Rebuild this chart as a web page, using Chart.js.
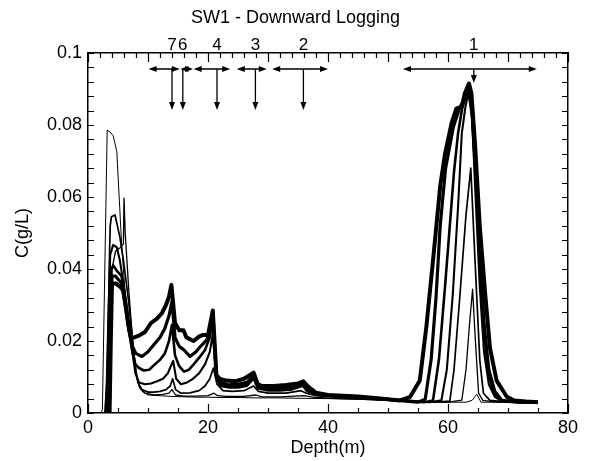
<!DOCTYPE html>
<html>
<head>
<meta charset="utf-8">
<script src="https://cdn.jsdelivr.net/npm/chart.js@4.4.1/dist/chart.umd.min.js"></script>
<style>
  html, body { margin: 0; padding: 0; background: #fff; }
</style>
</head>
<body>
<canvas id="chart" width="591" height="461"></canvas>
<script>
    // concentration profiles [depth (m), C (g/L)], thin (early) -> thick (late)
    const run1 = [[2.2,0],[2.4,0.001],[3.2,0.0786],[3.7,0.078],[4.2,0.077],[4.8,0.0726],[5.6,0.047],[6.4,0.0286],[7.3,0.019],[7.8,0.0129],[8.4,0.008],[9,0.006],[10,0.005],[12,0.0048],[14,0.0046],[16,0.0045],[18,0.0044],[20,0.0044],[22,0.0043],[25,0.0043],[28,0.0042],[31,0.0042],[35,0.0041],[40,0.004],[45,0.0038],[50,0.0035],[55,0.003],[60,0.003],[63,0.003],[64,0.0035],[64.8,0.0052],[65.5,0.003],[68,0.003],[72,0.0028],[75,0.0028]];
    const run2 = [[2.6,0],[3,0.0005],[3.5,0.02],[4,0.04],[4.6,0.045],[5.4,0.046],[5.9,0.047],[6,0.0597],[6.2,0.05],[6.8,0.034],[7.4,0.021],[8,0.011],[8.6,0.007],[9.5,0.0055],[11,0.005],[12.5,0.0052],[13.5,0.0055],[14,0.0065],[14.6,0.005],[16,0.0047],[18,0.0047],[20,0.0048],[21,0.0055],[21.6,0.0048],[23,0.0046],[26,0.0046],[28,0.005],[29,0.0045],[32,0.0045],[36,0.0048],[38,0.0043],[42,0.004],[46,0.0038],[50,0.0035],[55,0.0032],[60,0.003],[62.3,0.0036],[63,0.012],[63.6,0.025],[64.1,0.0344],[64.5,0.022],[65.1,0.0055],[65.8,0.0035],[68,0.003],[72,0.003],[75,0.0028]];
    const run3 = [[2.8,0],[3.2,0.01],[3.6,0.045],[3.7,0.052],[3.9,0.0545],[4.5,0.055],[5.3,0.049],[5.9,0.0425],[6.7,0.032],[7.2,0.024],[7.8,0.014],[8.3,0.0085],[9,0.0065],[10,0.0058],[11,0.0058],[12,0.006],[13,0.0065],[13.7,0.0075],[14.1,0.0095],[14.6,0.0065],[15.5,0.0055],[17,0.0056],[18.5,0.0062],[19.5,0.0075],[20.3,0.0095],[20.9,0.0125],[21.5,0.008],[22.5,0.0062],[24,0.006],[26,0.0062],[27.6,0.0075],[28.4,0.006],[30,0.0055],[33,0.0055],[35.5,0.0062],[36.4,0.0055],[38,0.0048],[42,0.0043],[46,0.004],[50,0.0036],[55,0.0032],[58,0.003],[60.3,0.0033],[61,0.012],[62,0.033],[63,0.055],[63.8,0.068],[64.5,0.0425],[65.3,0.0147],[65.9,0.0055],[67,0.0035],[70,0.003],[75,0.0028]];
    const run4 = [[3,0],[3.3,0.02],[3.7,0.044],[4.2,0.0467],[4.8,0.046],[5.3,0.0425],[5.9,0.036],[6.6,0.028],[7.3,0.018],[7.9,0.011],[8.5,0.0085],[9.5,0.008],[10.5,0.0082],[11.5,0.0088],[12.5,0.0095],[13.3,0.011],[13.8,0.013],[14.2,0.0145],[14.7,0.0095],[15.5,0.008],[16.5,0.0085],[17.5,0.0095],[18.5,0.011],[19.5,0.0135],[20.3,0.017],[20.8,0.022],[21.4,0.01],[22,0.0075],[23.5,0.007],[25,0.007],[26.5,0.0075],[27.6,0.0095],[28.3,0.0068],[30,0.0062],[32,0.0062],[34,0.0065],[35.8,0.0075],[36.5,0.006],[38,0.005],[42,0.0045],[46,0.0041],[50,0.0037],[54,0.0033],[57,0.003],[58.9,0.0035],[59.8,0.012],[60.8,0.033],[61.7,0.058],[62.3,0.0777],[62.9,0.085],[63.4,0.089],[64,0.082],[64.6,0.06],[65.3,0.035],[66,0.017],[66.8,0.008],[67.8,0.0045],[69,0.0032],[72,0.003],[75,0.003]];
    const run5 = [[3.2,0],[3.5,0.02],[3.9,0.04],[4.2,0.041],[4.8,0.0395],[5.6,0.038],[6.2,0.031],[6.8,0.023],[7.4,0.017],[7.9,0.0135],[8.5,0.0125],[9.3,0.0118],[10.2,0.012],[11,0.0133],[12,0.0148],[12.8,0.0165],[13.5,0.02],[14,0.0245],[14.5,0.016],[15.2,0.013],[16,0.0115],[16.8,0.012],[17.6,0.0135],[18.6,0.0155],[19.5,0.0175],[20.3,0.021],[20.8,0.026],[21.4,0.0105],[22,0.008],[23.5,0.0075],[25,0.0075],[26.5,0.008],[27.6,0.01],[28.3,0.0072],[30,0.0066],[32,0.0067],[34,0.007],[35.8,0.008],[36.5,0.0065],[38,0.0052],[42,0.0046],[46,0.0042],[50,0.0038],[54,0.0033],[56,0.003],[57.5,0.0035],[58.5,0.015],[59.5,0.035],[60.3,0.052],[61,0.067],[61.7,0.078],[62.4,0.085],[63.4,0.09],[64,0.084],[64.7,0.063],[65.4,0.04],[66.1,0.021],[66.9,0.0095],[67.9,0.005],[69,0.0033],[72,0.003],[75,0.003]];
    const run6 = [[3.4,0],[3.7,0.025],[4,0.038],[4.6,0.038],[5.6,0.036],[6.2,0.03],[6.8,0.023],[7.4,0.0185],[8,0.0165],[9,0.0157],[10,0.017],[11,0.019],[12,0.021],[12.8,0.0235],[13.5,0.027],[14,0.031],[14.5,0.021],[15.2,0.0185],[16,0.0175],[17,0.0157],[18,0.017],[18.7,0.0184],[19.8,0.0203],[20.4,0.023],[20.8,0.0275],[21.4,0.0105],[22,0.0085],[23.5,0.0078],[25,0.008],[26.5,0.0085],[27.6,0.0105],[28.3,0.0075],[30,0.007],[32,0.007],[34,0.0075],[35.8,0.0085],[36.5,0.007],[38,0.0053],[42,0.0047],[46,0.0043],[50,0.0038],[53,0.0033],[55,0.003],[56.2,0.0038],[57.2,0.015],[58,0.032],[58.7,0.052],[59.6,0.068],[60.9,0.0795],[62,0.085],[62.7,0.087],[63.3,0.091],[63.9,0.086],[64.6,0.068],[65.3,0.045],[66,0.025],[66.8,0.012],[67.8,0.006],[69,0.0035],[72,0.003],[75,0.003]];
    const run7 = [[3.6,0],[3.8,0.02],[4,0.036],[4.6,0.036],[5.4,0.035],[5.9,0.034],[6.7,0.025],[7.2,0.021],[7.7,0.021],[8.5,0.0215],[9.5,0.0225],[10.5,0.025],[11.5,0.0262],[12.3,0.0277],[13,0.03],[13.5,0.0323],[13.9,0.0356],[14.5,0.025],[15.2,0.023],[15.9,0.023],[16.4,0.021],[17.6,0.02],[18.5,0.0212],[19.2,0.0217],[20,0.0217],[20.4,0.025],[20.8,0.0285],[21.4,0.0105],[22,0.0095],[23,0.009],[24.5,0.0088],[26,0.0095],[27.6,0.0112],[28.3,0.008],[29,0.0075],[31,0.0075],[33,0.0078],[35,0.0082],[35.9,0.0088],[36.6,0.0075],[38,0.0056],[40,0.005],[45,0.0046],[48.7,0.004],[52,0.0035],[53.7,0.0045],[55.3,0.009],[56.4,0.024],[57.6,0.044],[58.7,0.063],[59.5,0.072],[60.6,0.0805],[61.4,0.0846],[62.3,0.085],[62.8,0.0888],[63.5,0.0915],[63.9,0.0888],[64.5,0.0749],[65.3,0.0518],[66.2,0.033],[67,0.018],[68.1,0.009],[69.8,0.0045],[71,0.0035],[73,0.0032],[75,0.003]];

    const runs = [run1, run2, run3, run4, run5, run6, run7];
    const runWidths = [1, 1.3, 1.7, 2.1, 2.6, 3.2, 4];

    // logger positions and logged intervals (m)
    const loggerNames = ['1', '2', '3', '4', '6', '7'];
    const loggerDepth = [64.3, 35.9, 27.9, 21.5, 15.8, 14.0];
    const rangeFrom = [52.5, 30.7, 24.8, 17.6, 15.4, 10.1];
    const rangeTo = [74.8, 40.0, 29.8, 23.7, 17.5, 15.3];

    const FONT = "'Liberation Sans', Arial, sans-serif";

    function arrowHead(ctx, x, y, dx, dy) {
        // filled triangle pointing along (dx, dy)
        const len = 8, half = 3;
        ctx.beginPath();
        ctx.moveTo(x, y);
        ctx.lineTo(x - dx * len - dy * half, y - dy * len + dx * half);
        ctx.lineTo(x - dx * len + dy * half, y - dy * len - dx * half);
        ctx.closePath();
        ctx.fill();
    }

    const decorations = {
        id: 'decorations',
        afterDraw(chart) {
            const { ctx, chartArea: a, scales } = chart;
            const x = scales.x, y = scales.y;
            ctx.save();
            ctx.strokeStyle = '#000';
            ctx.fillStyle = '#000';
            ctx.lineWidth = 1.2;

            // inward ticks
            ctx.beginPath();
            for (let v = 0; v <= 80; v += 5) {
                const px = Math.round(x.getPixelForValue(v)) + 0.5;
                const l = v % 20 === 0 ? 9 : 5;
                ctx.moveTo(px, a.bottom); ctx.lineTo(px, a.bottom - l);
            }
            for (let v = 0; v <= 80; v += 2) {
                const px = Math.round(x.getPixelForValue(v)) + 0.5;
                const l = v % 10 === 0 ? 9 : 5;
                ctx.moveTo(px, a.top); ctx.lineTo(px, a.top + l);
            }
            for (let i = 0; i <= 25; i++) {
                const py = Math.round(y.getPixelForValue(i * 0.004)) + 0.5;
                ctx.moveTo(a.left, py); ctx.lineTo(a.left + 6, py);
                ctx.moveTo(a.right, py); ctx.lineTo(a.right - 6, py);
            }
            ctx.stroke();

            // logger arrows
            const rowY = 69;
            ctx.lineWidth = 1.3;
            loggerNames.forEach((name, i) => {
                const x0 = x.getPixelForValue(rangeFrom[i]);
                const x1 = x.getPixelForValue(rangeTo[i]);
                const xl = x.getPixelForValue(loggerDepth[i]);
                const tipY = name === '1' ? 83 : 110;
                ctx.beginPath();
                ctx.moveTo(x0 + 4, rowY); ctx.lineTo(x1 - 4, rowY);
                ctx.moveTo(xl, rowY); ctx.lineTo(xl, tipY - 4);
                ctx.stroke();
                arrowHead(ctx, x0, rowY, -1, 0);
                arrowHead(ctx, x1, rowY, 1, 0);
                arrowHead(ctx, xl, tipY, 0, 1);
            });

            // logger labels
            ctx.font = '17px ' + FONT;
            ctx.textAlign = 'center';
            ctx.textBaseline = 'middle';
            loggerNames.forEach((name, i) => {
                ctx.fillText(name, x.getPixelForValue(loggerDepth[i]), 45);
            });

            // title
            ctx.font = '18px ' + FONT;
            ctx.fillText('SW1 - Downward Logging', chart.width / 2, 18);
            ctx.restore();
        }
    };

    const tickFont = { family: FONT, size: 18 };

    new Chart(document.getElementById('chart'), {
        type: 'scatter',
        data: {
            datasets: runs.map((r, i) => ({
                data: r.map(p => ({ x: p[0], y: p[1] })),
                showLine: true,
                borderColor: '#000',
                borderWidth: runWidths[i],
                borderJoinStyle: 'round',
                pointRadius: 0,
                fill: false
            }))
        },
        options: {
            responsive: false,
            animation: false,
            devicePixelRatio: 1,
            layout: { padding: 0 },
            plugins: { legend: { display: false }, tooltip: { enabled: false } },
            scales: {
                x: {
                    type: 'linear', position: 'bottom', min: 0, max: 80,
                    ticks: { stepSize: 20, color: '#000', font: tickFont, padding: 4, maxRotation: 0 },
                    grid: { display: true, drawOnChartArea: false, drawTicks: false },
                    border: { color: '#000', width: 1.5 },
                    title: { display: true, text: 'Depth(m)', color: '#000', font: tickFont, padding: { top: 0, bottom: 2 } },
                    afterFit: s => { s.height = 48; }
                },
                x2: {
                    type: 'linear', position: 'top', min: 0, max: 80,
                    ticks: { display: false },
                    grid: { display: true, drawOnChartArea: false, drawTicks: false },
                    border: { color: '#000', width: 1.5 },
                    afterFit: s => { s.height = 53; }
                },
                y: {
                    type: 'linear', position: 'left', min: 0, max: 0.1,
                    ticks: { stepSize: 0.02, color: '#000', font: tickFont, padding: 6,
                        callback: v => String(+v.toFixed(2)) },
                    grid: { display: true, drawOnChartArea: false, drawTicks: false },
                    border: { color: '#000', width: 1.5 },
                    title: { display: true, text: 'C(g/L)', color: '#000', font: tickFont, padding: { top: 12, bottom: 0 } },
                    afterFit: s => { s.width = 88; }
                },
                y2: {
                    type: 'linear', position: 'right', min: 0, max: 0.1,
                    ticks: { display: false },
                    grid: { display: true, drawOnChartArea: false, drawTicks: false },
                    border: { color: '#000', width: 1.5 },
                    afterFit: s => { s.width = 23; }
                }
            }
        },
        plugins: [decorations]
    });
</script>
</body>
</html>
